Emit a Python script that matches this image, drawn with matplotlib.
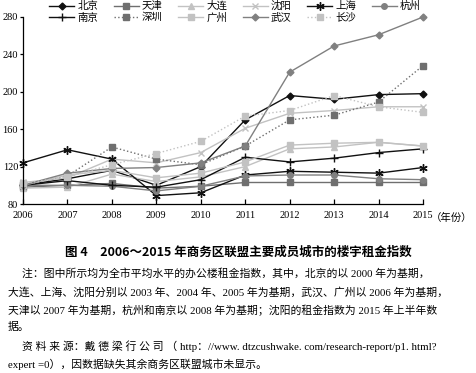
import matplotlib
matplotlib.use("Agg")
import matplotlib.pyplot as plt

plt.rcParams['font.family'] = ['Liberation Serif', 'Noto Sans CJK SC', 'DejaVu Sans']

years = [2006, 2007, 2008, 2009, 2010, 2011, 2012, 2013, 2014, 2015]
yticks = [80, 120, 160, 200, 240, 280]

beijing   = [100, 107, 116, 100, 120, 170, 196, 192, 197, 198]
tianjin   = [98, 100, 102, 97, 99, 103, 103, 103, 103, 103]
dalian    = [97, 98, 112, 104, 109, 120, 139, 141, 146, 142]
shenyang  = [103, 108, 128, 124, 135, 161, 177, 180, 184, 184]
shanghai  = [124, 138, 128, 89, 92, 111, 115, 114, 113, 119]
hangzhou  = [100, 100, 99, 94, 99, 110, 111, 111, 107, 106]
nanjing   = [100, 105, 100, 98, 106, 130, 125, 129, 135, 139]
shenzhen  = [100, 110, 141, 128, 122, 142, 170, 175, 189, 228]
guangzhou = [100, 111, 116, 108, 113, 125, 143, 145, 146, 142]
wuhan     = [100, 113, 118, 119, 124, 142, 221, 249, 261, 280]
changsha  = [102, 109, 122, 134, 147, 174, 180, 196, 184, 178]

DK = '#111111'
MG = '#6f6f6f'
GR = '#808080'
LG = '#c2c2c2'

series = [
    ('北京', beijing, DK, '-', 'D', 3.5),
    ('天津', tianjin, MG, '-', 's', 4),
    ('大连', dalian, LG, '-', '^', 4.5),
    ('沈阳', shenyang, LG, '-', 'x', 5),
    ('上海', shanghai, DK, '-', (6, 2, 0), 6),
    ('杭州', hangzhou, GR, '-', 'o', 4),
    ('南京', nanjing, DK, '-', '+', 6),
    ('深圳', shenzhen, MG, ':', 's', 4),
    ('广州', guangzhou, LG, '-', 's', 4.5),
    ('武汉', wuhan, GR, '-', 'D', 3.5),
    ('长沙', changsha, LG, ':', 's', 4.5),
]

fig = plt.figure(figsize=(4.77, 3.73), dpi=100)
ax = fig.add_axes([23/477, 1-204/373, 400/477, 187/373])

handles = {}
for name, vals, col, ls, mk, ms in series:
    h, = ax.plot(years, vals, color=col, linestyle=ls, marker=mk, markersize=ms,
                 linewidth=1.0, markeredgewidth=1.0, label=name, clip_on=False)
    handles[name] = h

ax.set_xlim(2006, 2015)
ax.set_ylim(80, 280)
ax.set_xticks(years)
ax.set_xticklabels([str(y) for y in years])
ax.set_yticks(yticks)
for s in ['top', 'right']:
    ax.spines[s].set_visible(False)
for s in ['left', 'bottom']:
    ax.spines[s].set_linewidth(0.9)
ax.tick_params(axis='x', direction='in', length=3.5, width=0.9, pad=5, labelsize=7.5)
ax.tick_params(axis='y', direction='out', length=2.5, width=0.9, pad=1, labelsize=7.5)

fig.text(431/477, 1-218/373, '（年份）', fontsize=7.5, ha='left', va='center')

order = ['北京', '南京', '天津', '深圳', '大连', '广州', '沈阳', '武汉', '上海', '长沙', '杭州']
fig.legend([handles[n] for n in order], order, ncol=6, loc='upper left',
           bbox_to_anchor=(48/477, 1.0), frameon=False, fontsize=7.5,
           handlelength=2.4, handletextpad=0.3, columnspacing=1.5,
           labelspacing=0.15, borderpad=0.0, borderaxespad=0.1)

fig.text(0.5, 1-252/373, '图 4　2006～2015 年商务区联盟主要成员城市的楼宇租金指数',
         ha='center', va='center', fontsize=9.0, fontweight='bold',
         family=['Noto Sans CJK SC', 'DejaVu Sans'])

notes = [
    (22, 273, '注：图中所示均为全市平均水平的办公楼租金指数，其中，北京的以 2000 年为基期，'),
    (8, 292, '大连、上海、沈阳分别以 2003 年、2004 年、2005 年为基期，武汉、广州以 2006 年为基期，'),
    (8, 310, '天津以 2007 年为基期，杭州和南京以 2008 年为基期；沈阳的租金指数为 2015 年上半年数'),
    (8, 327, '据。'),
    (22, 346, '资 料 来 源：戴 德 梁 行 公 司 （ http：//www. dtzcushwake. com/research-report/p1. html?'),
    (8, 364, 'expert =0），因数据缺失其余商务区联盟城市未显示。'),
]
for x, y, t in notes:
    fig.text(x/477, 1-y/373, t, ha='left', va='center', fontsize=7.8)

fig.savefig('out.png', dpi=100)
